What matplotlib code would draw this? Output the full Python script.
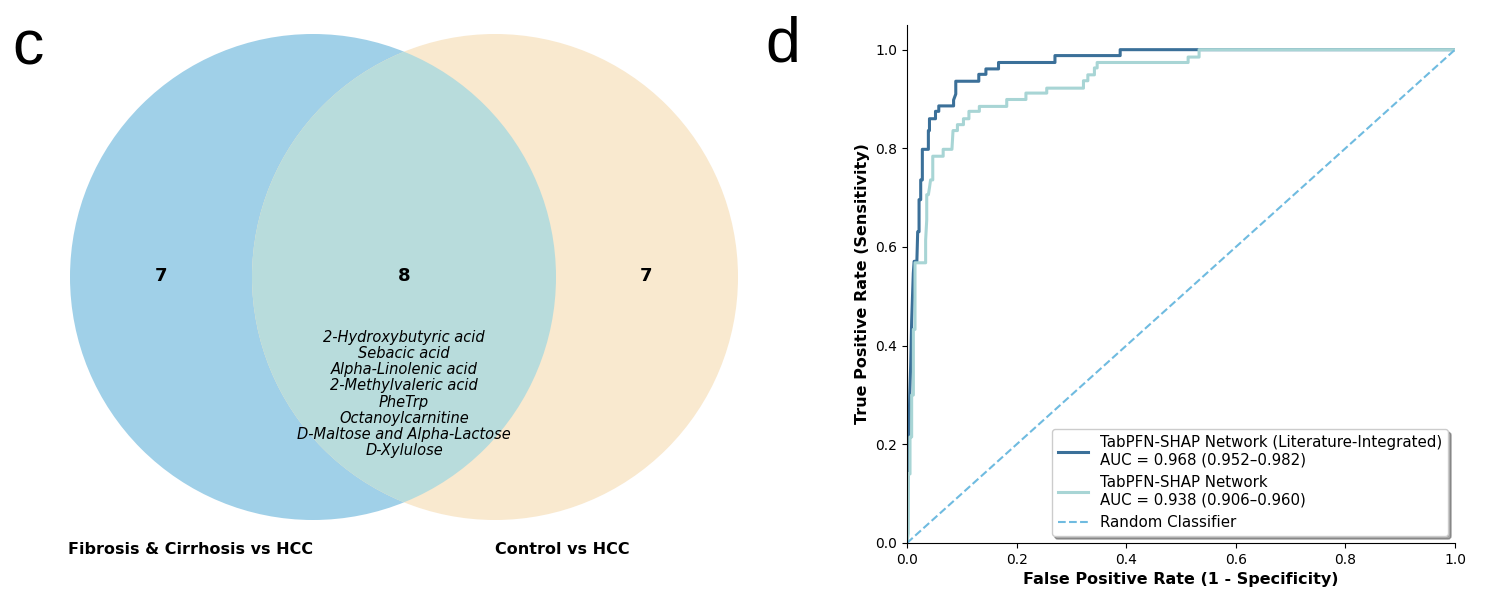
import matplotlib
matplotlib.use("Agg")
import matplotlib.pyplot as plt
from matplotlib.patches import Circle

# --- data ---
venn_counts = [7, 8, 7]          # left only, shared, right only
set_names = ["Fibrosis & Cirrhosis vs HCC", "Control vs HCC"]
shared_metabolites = [
    "2-Hydroxybutyric acid",
    "Sebacic acid",
    "Alpha-Linolenic acid",
    "2-Methylvaleric acid",
    "PheTrp",
    "Octanoylcarnitine",
    "D-Maltose and Alpha-Lactose",
    "D-Xylulose",
]

# ROC curve corner points
fpr_lit = [0, 0.001, 0.002, 0.0035, 0.005, 0.0067, 0.0085, 0.0115, 0.013, 0.018,
           0.0195, 0.022, 0.022, 0.025, 0.025, 0.028, 0.028, 0.039, 0.039, 0.041,
           0.041, 0.052, 0.052, 0.058, 0.058, 0.085, 0.085, 0.089, 0.089, 0.131,
           0.131, 0.144, 0.144, 0.167, 0.167, 0.270, 0.270, 0.389, 0.389, 1.0]
tpr_lit = [0, 0.04, 0.13, 0.215, 0.30, 0.36, 0.45, 0.547, 0.571, 0.571,
           0.631, 0.631, 0.696, 0.696, 0.736, 0.736, 0.798, 0.798, 0.836, 0.836,
           0.860, 0.860, 0.875, 0.875, 0.886, 0.886, 0.898, 0.910, 0.936, 0.936,
           0.950, 0.950, 0.961, 0.961, 0.974, 0.974, 0.988, 0.988, 1.0, 1.0]

fpr_net = [0, 0.0024, 0.0024, 0.0055, 0.0055, 0.0085, 0.0085, 0.0116, 0.0116, 0.0146,
           0.0146, 0.034, 0.034, 0.036, 0.036, 0.039, 0.041, 0.043, 0.047, 0.047,
           0.066, 0.066, 0.082, 0.084, 0.092, 0.092, 0.103, 0.103, 0.113, 0.113,
           0.132, 0.132, 0.182, 0.182, 0.217, 0.217, 0.255, 0.255, 0.322, 0.322,
           0.330, 0.330, 0.342, 0.342, 0.347, 0.347, 0.513, 0.513, 0.533, 0.533, 1.0]
tpr_net = [0, 0.02, 0.14, 0.14, 0.215, 0.215, 0.30, 0.30, 0.433, 0.433,
           0.568, 0.568, 0.614, 0.655, 0.706, 0.706, 0.72, 0.736, 0.736, 0.784,
           0.784, 0.798, 0.798, 0.836, 0.836, 0.848, 0.848, 0.860, 0.860, 0.875,
           0.875, 0.885, 0.885, 0.899, 0.899, 0.912, 0.912, 0.922, 0.922, 0.937,
           0.937, 0.949, 0.949, 0.963, 0.963, 0.974, 0.974, 0.985, 0.985, 1.0, 1.0]

legend_labels = ["TabPFN-SHAP Network (Literature-Integrated)\nAUC = 0.968 (0.952\u20130.982)",
                 "TabPFN-SHAP Network\nAUC = 0.938 (0.906\u20130.960)",
                 "Random Classifier"]

fig = plt.figure(figsize=(14.85, 5.91), dpi=100)

# --- panel c: venn diagram (pixel coordinates) ---
ax1 = fig.add_axes([0, 0, 760 / 1485, 1])
ax1.set_xlim(0, 760)
ax1.set_ylim(591, 0)
ax1.set_aspect("equal")
ax1.axis("off")

left = Circle((313, 277), 243, facecolor="#a0d0e8", edgecolor="none")
right = Circle((495, 277), 243, facecolor="#f9e9cf", edgecolor="none")
ax1.add_patch(left)
ax1.add_patch(right)
# overlap region: right circle clipped by left circle
overlap = Circle((495, 277), 243, facecolor="#b8dcdc", edgecolor="none")
ax1.add_patch(overlap)
overlap.set_clip_path(left)

for x, n in zip([161, 404, 646], venn_counts):
    ax1.text(x, 276, str(n), ha="center", va="center", fontsize=13, fontweight="bold")

ax1.text(404, 394, "\n".join(shared_metabolites), ha="center", va="center",
         fontsize=10.5, style="italic", linespacing=1.1)

for x, name in zip([191, 562], set_names):
    ax1.text(x, 550, name, ha="center", va="center", fontsize=11.5, fontweight="bold")

fig.text(28 / 1485, 1 - 48 / 591, "c", fontsize=45, family="Liberation Sans",
         ha="center", va="center")
fig.text(783 / 1485, 1 - 45 / 591, "d", fontsize=45, family="Liberation Sans",
         ha="center", va="center")

# --- panel d: ROC ---
ax2 = fig.add_axes([907 / 1485, 48 / 591, 548 / 1485, 518 / 591])
ax2.plot(fpr_lit, tpr_lit, color="#3b7099", lw=2.2, label=legend_labels[0])
ax2.plot(fpr_net, tpr_net, color="#a8d5d5", lw=2.2, label=legend_labels[1])
ax2.plot([0, 1], [0, 1], color="#6fbbe0", lw=1.5, ls="--", label=legend_labels[2])
ax2.set_xlim(0, 1.0)
ax2.set_ylim(0, 1.05)
ax2.set_xticks([0, 0.2, 0.4, 0.6, 0.8, 1.0])
ax2.set_yticks([0, 0.2, 0.4, 0.6, 0.8, 1.0])
ax2.tick_params(labelsize=10)
ax2.spines["top"].set_visible(False)
ax2.spines["right"].set_visible(False)
ax2.set_xlabel("False Positive Rate (1 - Specificity)", fontsize=11.5, fontweight="bold")
ax2.set_ylabel("True Positive Rate (Sensitivity)", fontsize=11.5, fontweight="bold")
ax2.legend(loc="lower right", fontsize=10.8, shadow=True, borderaxespad=0.45)

fig.savefig("out.png", dpi=100)
